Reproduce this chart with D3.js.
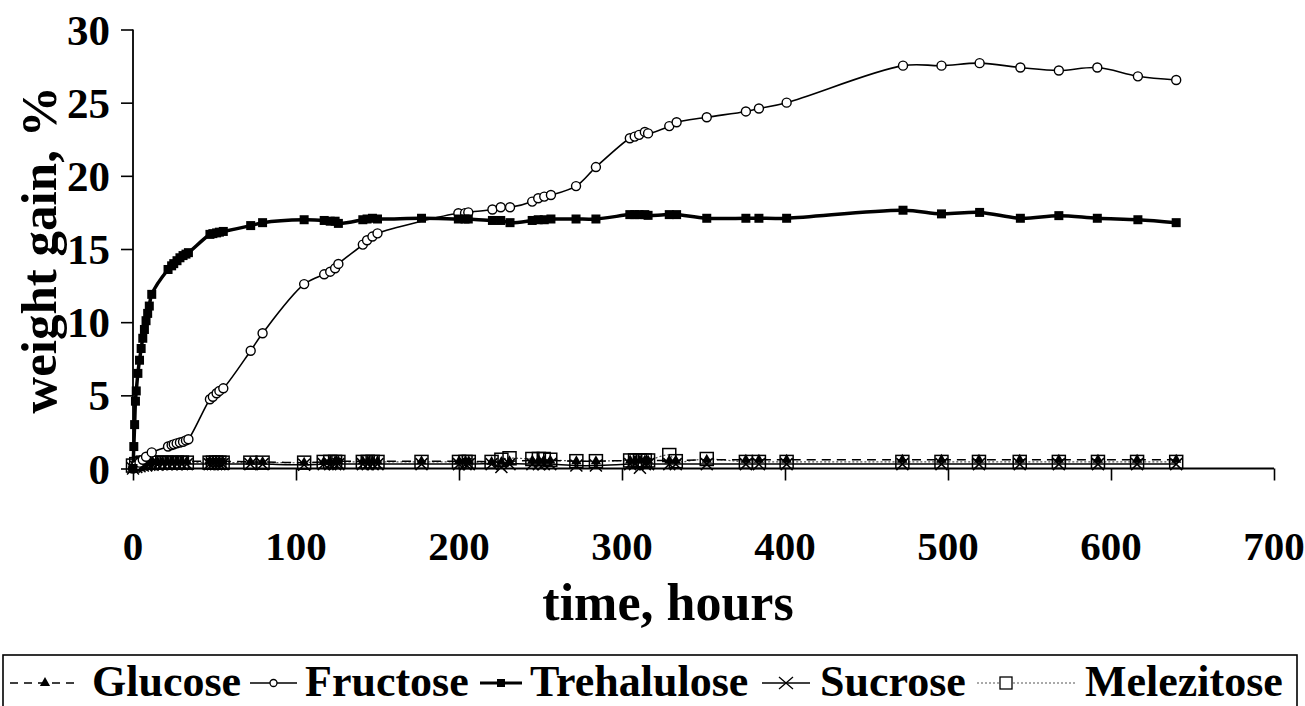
<!DOCTYPE html>
<html><head><meta charset="utf-8">
<script src="https://cdn.jsdelivr.net/npm/d3@7"></script>
<style>
html,body{margin:0;padding:0;background:#fff;}
svg{display:block;}
text{font-family:"Liberation Serif","Times New Roman",serif;font-weight:bold;fill:#000;}
</style></head><body>
<svg id="chart" width="1305" height="706"></svg>
<script>
// ---------------- data ----------------
const xTicks = [0,100,200,300,400,500,600,700];
const yTicks = [0,5,10,15,20,25,30];
const seriesNames = ["Glucose","Fructose","Trehalulose","Sucrose","Melezitose"];

const trehTime = [0,0.5,1,1.5,2,3,4,5,6,7,8,9,10,11.5,21.5,23.7,25,27,28.8,30.7,32.5,34,47.2,49,51.3,53,55.4,72.2,79.5,105,117.3,121,124,126,141,143.6,146.9,150,177,199.6,203.7,205.7,220.5,225.6,231.3,244.9,248.6,252.3,256.4,271.8,284,304.8,307.8,310.5,314,316,329,333.5,352,376,384,401,472.4,496,519.4,544.4,568,591.6,616.5,640];
const trehValue = [0,1.5,3,4.6,5.3,6.5,7.4,8.2,8.9,9.5,10.1,10.6,11.1,11.9,13.6,13.85,14.0,14.2,14.4,14.55,14.65,14.75,16.0,16.05,16.1,16.15,16.2,16.6,16.8,17.0,16.95,16.9,16.9,16.75,17.0,17.05,17.1,17.05,17.1,17.05,17.05,17.05,16.95,16.95,16.8,16.95,17.0,17.0,17.05,17.05,17.05,17.35,17.35,17.35,17.35,17.3,17.35,17.35,17.1,17.1,17.1,17.1,17.65,17.4,17.5,17.1,17.28,17.1,17.0,16.8];

const fruTime = [0,2,4,6,8,11.5,21.5,23.7,25,26.8,28.8,30.7,32.5,34,47.2,49,51.3,53,55.4,72.2,79.5,105,117.3,121,124,126,141,143.6,146.9,150,199.6,203.7,205.7,220.5,225.6,231.3,244.9,248.6,252.3,256.4,271.8,284,304.8,307.8,310.5,314,316,329,333.5,352,376,384,401,472.4,496,519.4,544.4,568,591.6,616.5,640];
const fruValue = [0,0.2,0.4,0.6,0.8,1.1,1.5,1.6,1.65,1.72,1.78,1.83,1.92,2.0,4.73,4.9,5.14,5.3,5.48,8.05,9.24,12.6,13.27,13.45,13.68,13.98,15.3,15.6,15.85,16.07,17.44,17.45,17.5,17.7,17.85,17.85,18.24,18.47,18.58,18.69,19.3,20.6,22.57,22.68,22.8,23.0,22.9,23.4,23.66,24.0,24.4,24.6,25.0,27.53,27.53,27.7,27.4,27.2,27.4,26.8,26.55];

const smallTime = [0,2,4,6,8,10,12,15,18,21,24,27,30,33,47,49,51,53,55,72,79.5,105,117,121,124,126,141,144,147,150,177,200,204,206,220,226,231,245,249,252,256,272,284,305,308,311,314,316,329,333,352,376,384,401,472,496,519,544,568,592,616,640];
const glucoseValue = [0.1,0.2,0.3,0.35,0.4,0.4,0.45,0.45,0.45,0.5,0.5,0.5,0.5,0.5,0.5,0.5,0.5,0.5,0.5,0.45,0.45,0.4,0.45,0.45,0.5,0.5,0.5,0.5,0.5,0.5,0.5,0.5,0.5,0.5,0.45,0.45,0.5,0.55,0.55,0.55,0.55,0.5,0.5,0.55,0.55,0.55,0.55,0.55,0.55,0.55,0.6,0.6,0.6,0.6,0.6,0.6,0.6,0.6,0.6,0.6,0.6,0.6];
const sucroseValue = [0.0,0.1,0.15,0.2,0.2,0.25,0.25,0.25,0.3,0.3,0.3,0.3,0.3,0.3,0.3,0.3,0.3,0.3,0.3,0.3,0.3,0.25,0.3,0.3,0.3,0.3,0.3,0.3,0.3,0.3,0.3,0.3,0.3,0.3,0.3,0.1,0.3,0.3,0.3,0.3,0.3,0.2,0.2,0.3,0.3,0.05,0.3,0.3,0.3,0.3,0.3,0.3,0.3,0.3,0.3,0.3,0.3,0.3,0.3,0.3,0.3,0.3];
const melezitoseValue = [0.2,0.3,0.35,0.4,0.4,0.4,0.4,0.4,0.4,0.4,0.4,0.4,0.4,0.4,0.4,0.4,0.4,0.4,0.4,0.4,0.4,0.4,0.45,0.45,0.45,0.45,0.45,0.45,0.45,0.45,0.45,0.45,0.45,0.45,0.45,0.6,0.7,0.65,0.65,0.65,0.6,0.5,0.5,0.55,0.55,0.55,0.55,0.55,0.92,0.5,0.65,0.45,0.45,0.45,0.45,0.45,0.45,0.45,0.45,0.45,0.45,0.45];

// ---------------- layout ----------------
const svg = d3.select("#chart");
const x = d3.scaleLinear().domain([0,700]).range([133,1274]);
const y = d3.scaleLinear().domain([0,30]).range([468.5,29.5]);

function zip(t,v){ return t.map((d,i)=>({t:d,v:v[i]})); }
const treh = zip(trehTime,trehValue), fru = zip(fruTime,fruValue);
const glu = zip(smallTime,glucoseValue), suc = zip(smallTime,sucroseValue), mel = zip(smallTime,melezitoseValue);

// axes
const yAxis = d3.axisLeft(y).tickValues(yTicks).tickSize(12).tickFormat("");
const xAxis = d3.axisBottom(x).tickValues(xTicks).tickSize(12).tickFormat("");
const gy = svg.append("g").attr("transform","translate(133,0)").call(yAxis);
const gx = svg.append("g").attr("transform","translate(0,468.5)").call(xAxis);
[gy,gx].forEach(g=>{ g.selectAll("line").attr("stroke","#000").attr("stroke-width",1.6); g.select(".domain").remove(); });
svg.append("line").attr("x1",133).attr("x2",133).attr("y1",y(30)).attr("y2",y(0)).attr("stroke","#000").attr("stroke-width",1.8);
svg.append("line").attr("x1",133).attr("x2",x(700)).attr("y1",y(0)).attr("y2",y(0)).attr("stroke","#000").attr("stroke-width",1.8);

// tick labels
svg.append("g").selectAll("text").data(yTicks).join("text")
  .attr("x",110).attr("y",d=>y(d)).attr("dy","0.35em").attr("text-anchor","end")
  .attr("font-size",43).text(d=>d);
svg.append("g").selectAll("text").data(xTicks).join("text")
  .attr("x",d=>x(d)).attr("y",560).attr("text-anchor","middle")
  .attr("font-size",41).text(d=>d);

// titles
svg.append("text").attr("x",668).attr("y",620).attr("text-anchor","middle").attr("font-size",52).text("time, hours");
svg.append("text").attr("transform","translate(56,250) rotate(-90)").attr("text-anchor","middle").attr("font-size",51).text("weight gain, %");

// lines
const line = d3.line().x(d=>x(d.t)).y(d=>y(d.v)).curve(d3.curveCatmullRom.alpha(0.5));
const plot = svg.append("g");
plot.append("path").datum(mel).attr("d",line).attr("fill","none").attr("stroke","#555").attr("stroke-width",1.2).attr("stroke-dasharray","2,2");
plot.append("path").datum(glu).attr("d",line).attr("fill","none").attr("stroke","#000").attr("stroke-width",1.5).attr("stroke-dasharray","9,6");
plot.append("path").datum(suc).attr("d",line).attr("fill","none").attr("stroke","#000").attr("stroke-width",1.5);
plot.append("path").datum(fru).attr("d",line).attr("fill","none").attr("stroke","#000").attr("stroke-width",1.6);
plot.append("path").datum(treh).attr("d",line).attr("fill","none").attr("stroke","#000").attr("stroke-width",3.5);

// markers
const triangle = d3.symbol().type(d3.symbolTriangle).size(45);
plot.append("g").selectAll("path").data(glu).join("path").attr("d",triangle)
  .attr("transform",d=>`translate(${x(d.t)},${y(d.v)})`).attr("fill","#000");
plot.append("g").selectAll("path").data(suc).join("path")
  .attr("d","M-6,-6L6,6M-6,6L6,-6").attr("transform",d=>`translate(${x(d.t)},${y(d.v)})`)
  .attr("stroke","#000").attr("stroke-width",1.5).attr("fill","none");
plot.append("g").selectAll("rect").data(mel).join("rect")
  .attr("x",d=>x(d.t)-6.5).attr("y",d=>y(d.v)-6.5).attr("width",13).attr("height",13)
  .attr("fill","none").attr("stroke","#000").attr("stroke-width",1.5);
plot.append("g").selectAll("circle").data(fru).join("circle")
  .attr("cx",d=>x(d.t)).attr("cy",d=>y(d.v)).attr("r",4.5)
  .attr("fill","#fff").attr("stroke","#000").attr("stroke-width",1.4);
plot.append("g").selectAll("rect").data(treh).join("rect")
  .attr("x",d=>x(d.t)-4.5).attr("y",d=>y(d.v)-4.5).attr("width",9).attr("height",9).attr("fill","#000");

// legend
const lg = svg.append("g");
lg.append("rect").attr("x",3).attr("y",655).attr("width",1294).attr("height",60).attr("fill","none").attr("stroke","#000").attr("stroke-width",1.6);
const legY = 683;
const legItems = [
  {name:"Glucose", x0:10, x1:80, tx:92},
  {name:"Fructose", x0:250, x1:297, tx:305},
  {name:"Trehalulose", x0:480, x1:522, tx:530},
  {name:"Sucrose", x0:762, x1:810, tx:820},
  {name:"Melezitose", x0:977, x1:1075, tx:1085}
];
legItems.forEach((it,i)=>{
  const g = lg.append("g");
  const ln = g.append("line").attr("x1",it.x0).attr("x2",it.x1).attr("y1",legY).attr("y2",legY).attr("stroke","#000");
  const cx = (it.x0+it.x1)/2;
  if(i===0){ ln.attr("stroke-width",1.5).attr("stroke-dasharray","8,6");
    g.append("path").attr("d",triangle).attr("transform",`translate(${cx},${legY})`).attr("fill","#000"); }
  if(i===1){ ln.attr("stroke-width",1.5);
    g.append("circle").attr("cx",cx).attr("cy",legY).attr("r",3.5).attr("fill","#fff").attr("stroke","#000").attr("stroke-width",1.3); }
  if(i===2){ ln.attr("stroke-width",3);
    g.append("rect").attr("x",cx-4).attr("y",legY-4).attr("width",8).attr("height",8).attr("fill","#000"); }
  if(i===3){ ln.attr("stroke-width",1.5);
    g.append("path").attr("d","M-7,-6L7,6M-7,6L7,-6").attr("transform",`translate(${cx},${legY})`).attr("stroke","#000").attr("stroke-width",1.3); }
  if(i===4){ ln.attr("stroke-width",1.2).attr("stroke","#555").attr("stroke-dasharray","2,2");
    g.append("rect").attr("x",cx-6-20).attr("y",legY-6).attr("width",12).attr("height",12).attr("fill","#fff").attr("stroke","#000").attr("stroke-width",1.3); }
  g.append("text").attr("x",it.tx).attr("y",696).attr("font-size",44).text(it.name);
});
</script>
</body></html>
